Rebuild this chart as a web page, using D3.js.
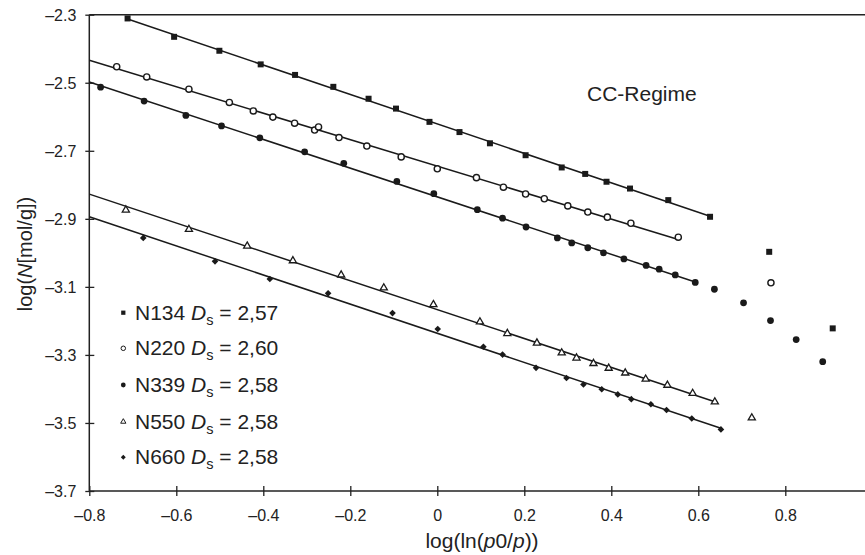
<!DOCTYPE html>
<html>
<head>
<meta charset="utf-8">
<script src="https://cdn.jsdelivr.net/npm/d3@7"></script>
<style>
  body { margin: 0; background: #fff; }
  text { font-family: "Liberation Sans", Arial, Helvetica, sans-serif; fill: #222; }
</style>
</head>
<body>
<div id="chart"></div>
<script>
// values: [log(ln(p0/p)), log(N)]
var n134 = [[-0.712,-2.311],[-0.605,-2.365],[-0.501,-2.406],[-0.406,-2.446],[-0.327,-2.477],[-0.239,-2.512],
  [-0.158,-2.547],[-0.095,-2.576],[-0.018,-2.615],[0.051,-2.645],[0.121,-2.678],[0.203,-2.713],[0.286,-2.749],
  [0.340,-2.768],[0.389,-2.791],[0.443,-2.811],[0.531,-2.845],[0.627,-2.894]];
var n134Out = [[0.763,-2.997],[0.909,-3.222]];

var n220 = [[-0.737,-2.453],[-0.668,-2.483],[-0.571,-2.519],[-0.478,-2.558],[-0.423,-2.583],[-0.378,-2.601],
  [-0.328,-2.619],[-0.282,-2.639],[-0.273,-2.630],[-0.226,-2.661],[-0.162,-2.686],[-0.083,-2.718],[0.000,-2.753],
  [0.090,-2.779],[0.152,-2.807],[0.203,-2.827],[0.246,-2.841],[0.300,-2.862],[0.346,-2.880],[0.391,-2.895],
  [0.445,-2.913],[0.554,-2.954]];
var n220Out = [[0.767,-3.088]];

var n339 = [[-0.774,-2.513],[-0.674,-2.554],[-0.578,-2.596],[-0.496,-2.627],[-0.408,-2.662],[-0.305,-2.703],
  [-0.215,-2.737],[-0.093,-2.790],[-0.008,-2.826],[0.092,-2.873],[0.150,-2.898],[0.204,-2.924],[0.276,-2.956],
  [0.309,-2.971],[0.346,-2.985],[0.382,-3.000],[0.429,-3.018],[0.480,-3.037],[0.510,-3.048],[0.547,-3.065],
  [0.593,-3.087]];
var n339Out = [[0.637,-3.107],[0.704,-3.147],[0.766,-3.199],[0.825,-3.255],[0.886,-3.320]];

var n550 = [[-0.716,-2.874],[-0.571,-2.931],[-0.437,-2.980],[-0.332,-3.023],[-0.221,-3.065],[-0.123,-3.103],
  [-0.009,-3.152],[0.098,-3.203],[0.161,-3.237],[0.229,-3.265],[0.286,-3.294],[0.320,-3.309],[0.359,-3.325],
  [0.394,-3.339],[0.432,-3.353],[0.479,-3.371],[0.529,-3.389],[0.587,-3.413],[0.638,-3.438]];
var n550Out = [[0.723,-3.485]];

var n660 = [[-0.676,-2.956],[-0.511,-3.025],[-0.385,-3.077],[-0.251,-3.119],[-0.103,-3.177],[0.001,-3.224],
  [0.106,-3.276],[0.150,-3.299],[0.227,-3.338],[0.297,-3.368],[0.336,-3.387],[0.378,-3.401],[0.415,-3.416],
  [0.446,-3.430],[0.491,-3.445],[0.527,-3.462],[0.585,-3.487],[0.652,-3.519]];
var n660Out = [];

var seriesNames = ["N134","N220","N339","N550","N660"];
var dsValues = ["2,57","2,60","2,58","2,58","2,58"];
var fitStart = [-0.712,-0.8,-0.8,-0.8,-0.8];   // where each fitted line begins
var xTicks = [-0.8,-0.6,-0.4,-0.2,0,0.2,0.4,0.6,0.8];
var yTicks = [-3.7,-3.5,-3.3,-3.1,-2.9,-2.7,-2.5,-2.3];

var fitPts = [n134,n220,n339,n550,n660];
var outPts = [n134Out,n220Out,n339Out,n550Out,n660Out];

var W = 865, H = 555;
var svg = d3.select("#chart").append("svg").attr("width", W).attr("height", H);

var x = d3.scaleLinear().domain([-0.8, 1.0]).range([89.3, 89.3 + 1.8*435]);
var y = d3.scaleLinear().domain([-3.7, -2.3]).range([491, 14.7]);

function fmt(v){
  if (Math.abs(v) < 1e-9) return "0";
  return (v < 0 ? "\u2013" : "") + Math.abs(v).toFixed(1);
}

// frame: top line, left axis, bottom axis
svg.append("line").attr("x1", x(-0.8)).attr("x2", W).attr("y1", y(-2.3)).attr("y2", y(-2.3))
  .attr("stroke", "#222").attr("stroke-width", 1.5);

var gx = svg.append("g").attr("transform", "translate(0," + y(-3.7) + ")")
  .call(d3.axisBottom(x).tickValues(xTicks).tickSize(5).tickFormat(fmt));
gx.select(".domain").remove();
gx.selectAll(".tick line").attr("y1", -5).attr("stroke", "#222").attr("stroke-width", 1.3);
gx.selectAll(".tick text").attr("y", 30).attr("dy", 0).style("font-size", "16px").attr("fill", "#222");
svg.append("line").attr("x1", x(-0.8)).attr("x2", W).attr("y1", y(-3.7)).attr("y2", y(-3.7))
  .attr("stroke", "#222").attr("stroke-width", 1.5);

var gy = svg.append("g").attr("transform", "translate(" + x(-0.8) + ",0)")
  .call(d3.axisLeft(y).tickValues(yTicks).tickSize(4).tickFormat(fmt));
gy.select(".domain").remove();
gy.selectAll(".tick line").attr("x1", 5).attr("stroke", "#222").attr("stroke-width", 1.3);
gy.selectAll(".tick text").attr("x", -13).attr("dy", "0.35em").style("font-size", "16px").attr("fill", "#222");
svg.append("line").attr("x1", x(-0.8)).attr("x2", x(-0.8)).attr("y1", y(-2.3)).attr("y2", y(-3.7))
  .attr("stroke", "#222").attr("stroke-width", 1.5);

// fitted lines (least squares on the points that belong to the line)
fitPts.forEach(function(pts, k){
  var mx = d3.mean(pts, d => d[0]), my = d3.mean(pts, d => d[1]);
  var sxy = d3.sum(pts, d => (d[0]-mx)*(d[1]-my)), sxx = d3.sum(pts, d => (d[0]-mx)*(d[0]-mx));
  var b = sxy/sxx, a = my - b*mx;
  var x0 = fitStart[k], x1 = pts[pts.length-1][0];
  svg.append("line")
    .attr("x1", x(x0)).attr("y1", y(a + b*x0))
    .attr("x2", x(x1)).attr("y2", y(a + b*x1))
    .attr("stroke", "#1a1a1a").attr("stroke-width", 1.5);
});

// markers (diamond = square turned 45 degrees)
var symTypes = [d3.symbolSquare, d3.symbolCircle, d3.symbolCircle, d3.symbolTriangle, d3.symbolSquare];
var symRot = [0, 0, 0, 0, 45];
var symSizes = [36, 30, 36, 22, 22];
var symFill = ["#1a1a1a", "#fff", "#1a1a1a", "#fff", "#1a1a1a"];
var symStroke = [0, 1.4, 0, 1.3, 0];

fitPts.forEach(function(pts, k){
  var all = pts.concat(outPts[k]);
  svg.append("g").selectAll("path").data(all).enter().append("path")
    .attr("d", d3.symbol().type(symTypes[k]).size(symSizes[k]))
    .attr("transform", d => "translate(" + x(d[0]) + "," + y(d[1]) + ") rotate(" + symRot[k] + ")")
    .attr("fill", symFill[k])
    .attr("stroke", symStroke[k] ? "#1a1a1a" : "none")
    .attr("stroke-width", symStroke[k]);
});

// legend
var legY = [312.7, 348.3, 385, 421.7, 457.3];
var legSizes = [18, 16, 18, 12, 12];
seriesNames.forEach(function(name, k){
  svg.append("path")
    .attr("d", d3.symbol().type(symTypes[k]).size(legSizes[k]))
    .attr("transform", "translate(123.3," + legY[k] + ") rotate(" + symRot[k] + ")")
    .attr("fill", symFill[k])
    .attr("stroke", symStroke[k] ? "#1a1a1a" : "none")
    .attr("stroke-width", symStroke[k] ? 1 : 0);
  var t = svg.append("text").attr("x", 135).attr("y", legY[k] + 7).style("font-size", "21px");
  t.append("tspan").text(name + " ");
  t.append("tspan").style("font-style", "italic").text("D");
  t.append("tspan").attr("dy", 5).style("font-size", "14.5px").text("s");
  t.append("tspan").attr("dy", -5).text(" = " + dsValues[k]);
});

svg.append("text").attr("x", 587).attr("y", 101).style("font-size", "21px").text("CC-Regime");

// axis titles
var xt = svg.append("text").attr("x", 482).attr("y", 548).attr("text-anchor", "middle").style("font-size", "21px");
xt.append("tspan").text("log(ln(");
xt.append("tspan").style("font-style", "italic").text("p");
xt.append("tspan").text("0/");
xt.append("tspan").style("font-style", "italic").text("p");
xt.append("tspan").text("))");

var yt = svg.append("text").attr("transform", "translate(32,254) rotate(-90)")
  .attr("text-anchor", "middle").style("font-size", "20px");
yt.append("tspan").text("log(");
yt.append("tspan").style("font-style", "italic").text("N");
yt.append("tspan").text("[mol/g])");
</script>
</body>
</html>
